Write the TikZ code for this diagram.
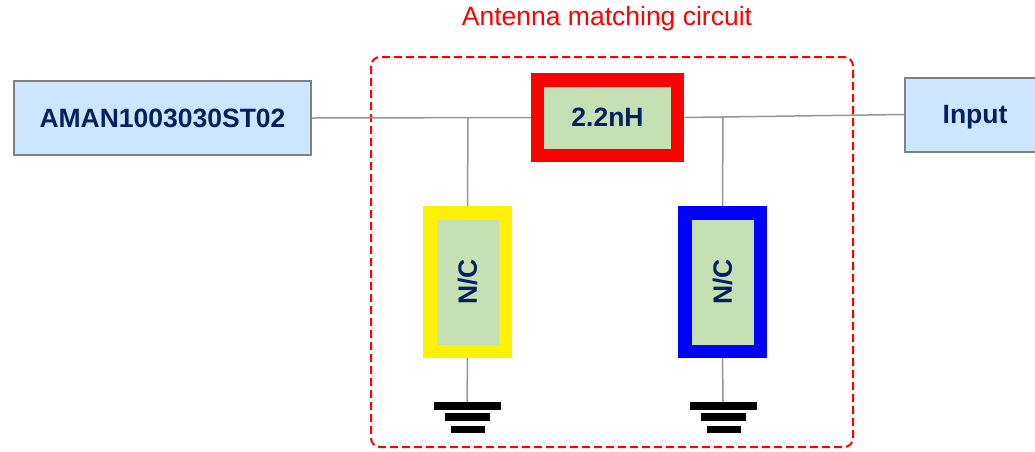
\documentclass[tikz,border=0pt]{standalone}
\usepackage{fontspec}
\setmainfont{Liberation Sans}

\definecolor{boxblue}{RGB}{204,230,255}
\definecolor{partgreen}{RGB}{197,224,180}
\definecolor{textnavy}{RGB}{0,32,96}
\definecolor{wiregray}{RGB}{150,150,150}

\tikzset{
  block/.style={draw=gray, line width=2pt, fill=boxblue, text=textnavy,
    font=\fontsize{26.5}{30}\selectfont\bfseries, minimum height=74pt, text depth=0pt},
  part/.style={line width=13.5pt, fill=partgreen, text=textnavy,
    font=\fontsize{26.5}{30}\selectfont\bfseries},
  wire/.style={draw=wiregray, line width=1.5pt}
}

\begin{document}
\begin{tikzpicture}[x=1pt,y=-1pt]
    \useasboundingbox (0,0) rectangle (1035,451);

    % Draw the matching circuit frame and its title
    \draw[red, line width=2pt, dash pattern=on 8pt off 4pt, rounded corners=9pt]
        (371,57) rectangle (853,447);
    \node[text=red, font=\fontsize{26.5}{30}\selectfont] (title) at (607,19) {Antenna matching circuit};

    % Place the antenna and the input
    \node[block, minimum width=297pt] (ant) at (162.5,118) {AMAN1003030ST02};
    \node[block, minimum width=140pt] (inp) at (975,114.5) {Input};

    % Place the series part and the two shunt parts
    \node[part, draw=red, minimum width=140pt, minimum height=75.5pt] (ind) at (607.5,117.5) {2.2nH};
    \node[part, draw=yellow, minimum width=75.5pt, minimum height=138.5pt] (shy) at (467.5,282) {\rotatebox{90}{N/C}};
    \node[part, draw=blue, minimum width=75.5pt, minimum height=138.5pt] (shb) at (722.5,282) {\rotatebox{90}{N/C}};

    % Junctions and ground points
    \coordinate (j1) at (468,117);
    \coordinate (j2) at (723,116);
    \coordinate (gy) at (467,402);
    \coordinate (gb) at (723,402);

    % Wires
    \draw[wire] (ant.east) -- (ind.west);
    \draw[wire] (ind.east) -- (inp.west);
    \draw[wire] (j1) -- (shy.north);
    \draw[wire] (j2) -- (shb.north);
    \draw[wire] (shy.south) -- (gy);
    \draw[wire] (shb.south) -- (gb);

    % Ground symbols
    \foreach \g in {gy,gb} {
        \fill ([xshift=-33pt]\g) rectangle ++(67,8);
        \fill ([xshift=-22pt,yshift=-11pt]\g) rectangle ++(45,8);
        \fill ([xshift=-16pt,yshift=-24pt]\g) rectangle ++(34,7);
    }
\end{tikzpicture}
\end{document}
